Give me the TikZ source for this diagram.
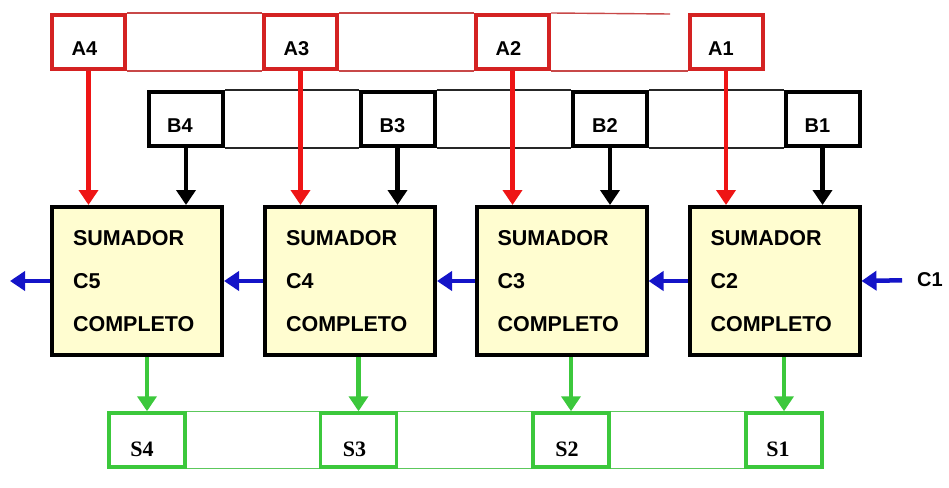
\documentclass[tikz,border=0pt]{standalone}
\usepackage{fontspec}
\setmainfont{Liberation Sans}
\newfontfamily\serifbold{Liberation Serif}
\usetikzlibrary{arrows.meta}
\definecolor{redbox}{HTML}{D42222}
\definecolor{redarrow}{HTML}{EE1515}
\definecolor{redthin}{HTML}{C84848}
\definecolor{greenbox}{HTML}{3CC83C}
\definecolor{greenthin}{HTML}{5CC85C}
\definecolor{bluearrow}{HTML}{1414C8}
\definecolor{adderfill}{HTML}{FFFDD0}
\tikzset{
  abox/.style={draw=redbox, line width=4pt, fill=white, minimum width=73pt, minimum height=54pt, inner sep=0pt},
  bbox/.style={draw=black, line width=4pt, fill=white, minimum width=74pt, minimum height=54pt, inner sep=0pt},
  sbox/.style={draw=greenbox, line width=3.5pt, fill=white, minimum width=76pt, minimum height=54pt, inner sep=0pt},
  lab/.style={font=\fontsize{20}{22}\selectfont\bfseries, inner sep=0pt},
  slab/.style={font=\serifbold\fontsize{22}{24}\selectfont\bfseries, inner sep=0pt},
  adder/.style={draw=black, line width=4pt, fill=adderfill, minimum width=170pt, minimum height=148pt,
    inner xsep=21pt, inner ysep=0pt, align=left, text width=128pt,
    font=\fontsize{21.5}{43}\selectfont\bfseries},
  thinred/.style={draw=redthin, line width=1.4pt},
  thinblack/.style={draw=black!85, line width=1.4pt},
  thingreen/.style={draw=greenthin, line width=1.4pt},
  tip/.style={-{Triangle[length=15pt,width=19pt]}},
  redarr/.style={tip, draw=redarrow, fill=redarrow, line width=4.5pt},
  blackarr/.style={tip, draw=black, fill=black, line width=4.5pt},
  greenarr/.style={tip, draw=greenbox, fill=greenbox, line width=4.5pt},
  bluearr/.style={tip, draw=bluearrow, fill=bluearrow, line width=4.5pt},
}
\begin{document}
\begin{tikzpicture}[x=1pt, y=-1pt]
\useasboundingbox (0,0) rectangle (949,487);

% A inputs
\node[abox, label={[lab, xshift=-4pt, yshift=-7pt]center:A4}] (A4) at (88.5,42) {};
\node[abox, label={[lab, xshift=-4pt, yshift=-7pt]center:A3}] (A3) at (300.5,42) {};
\node[abox, label={[lab, xshift=-4pt, yshift=-7pt]center:A2}] (A2) at (512.5,42) {};
\node[abox, label={[lab, xshift=-5pt, yshift=-7pt]center:A1}] (A1) at (726,42) {};
\coordinate (Aend) at (670,14);
\draw[thinred] (A4.north east) -- (A3.north west);
\draw[thinred] (A3.north east) -- (A2.north west);
\draw[thinred] (A2.north east) -- (Aend);
\draw[thinred] (A4.south east) -- (A3.south west);
\draw[thinred] (A3.south east) -- (A2.south west);
\draw[thinred] (A2.south east) -- (A1.south west);

% B inputs
\node[bbox, label={[lab, xshift=-6pt, yshift=-7pt]center:B4}] (B4) at (186,119) {};
\node[bbox, label={[lab, xshift=-5pt, yshift=-7pt]center:B3}] (B3) at (397.5,119) {};
\node[bbox, label={[lab, xshift=-5pt, yshift=-7pt]center:B2}] (B2) at (610,119) {};
\node[bbox, label={[lab, xshift=-5pt, yshift=-7pt]center:B1}] (B1) at (822.5,119) {};
\draw[thinblack] (B4.north east) -- (B3.north west);
\draw[thinblack] (B3.north east) -- (B2.north west);
\draw[thinblack] (B2.north east) -- (B1.north west);
\draw[thinblack] (B4.south east) -- (B3.south west);
\draw[thinblack] (B3.south east) -- (B2.south west);
\draw[thinblack] (B2.south east) -- (B1.south west);

% adders
\node[adder] (FA4) at (137,281) {SUMADOR\\C5\\COMPLETO};
\node[adder] (FA3) at (350,281) {SUMADOR\\C4\\COMPLETO};
\node[adder] (FA2) at (561.5,281) {SUMADOR\\C3\\COMPLETO};
\node[adder] (FA1) at (774.5,281) {SUMADOR\\C2\\COMPLETO};

% S outputs
\node[sbox, label={[slab, xshift=-5pt, yshift=-9pt]center:S4}] (S4) at (147,440) {};
\node[sbox, label={[slab, xshift=-4pt, yshift=-9pt]center:S3}] (S3) at (358.5,440) {};
\node[sbox, label={[slab, xshift=-4pt, yshift=-9pt]center:S2}] (S2) at (571,440) {};
\node[sbox, label={[slab, xshift=-6pt, yshift=-9pt]center:S1}] (S1) at (784,440) {};
\draw[thingreen] (S4.north east) -- (S3.north west);
\draw[thingreen] (S3.north east) -- (S2.north west);
\draw[thingreen] (S2.north east) -- (S1.north west);
\draw[thingreen] (S4.south east) -- (S3.south west);
\draw[thingreen] (S3.south east) -- (S2.south west);
\draw[thingreen] (S2.south east) -- (S1.south west);

% vertical arrows
\foreach \i in {1,2,3,4} {
  \draw[redarr] (A\i.south) -- (A\i.south |- FA\i.north);
  \draw[blackarr] (B\i.south) -- (B\i.south |- FA\i.north);
  \draw[greenarr] (S\i.north |- FA\i.south) -- (S\i.north);
}

% carry arrows
\node[lab, inner xsep=0pt] (C1) at (930,280) {C1};
\coordinate (C5out) at (10,281);
\draw[bluearr, shorten <=15pt] (C1.west) -- (FA1.east);
\draw[bluearr] (FA1.west) -- (FA2.east);
\draw[bluearr] (FA2.west) -- (FA3.east);
\draw[bluearr] (FA3.west) -- (FA4.east);
\draw[bluearr] (FA4.west) -- (C5out);
\end{tikzpicture}
\end{document}
